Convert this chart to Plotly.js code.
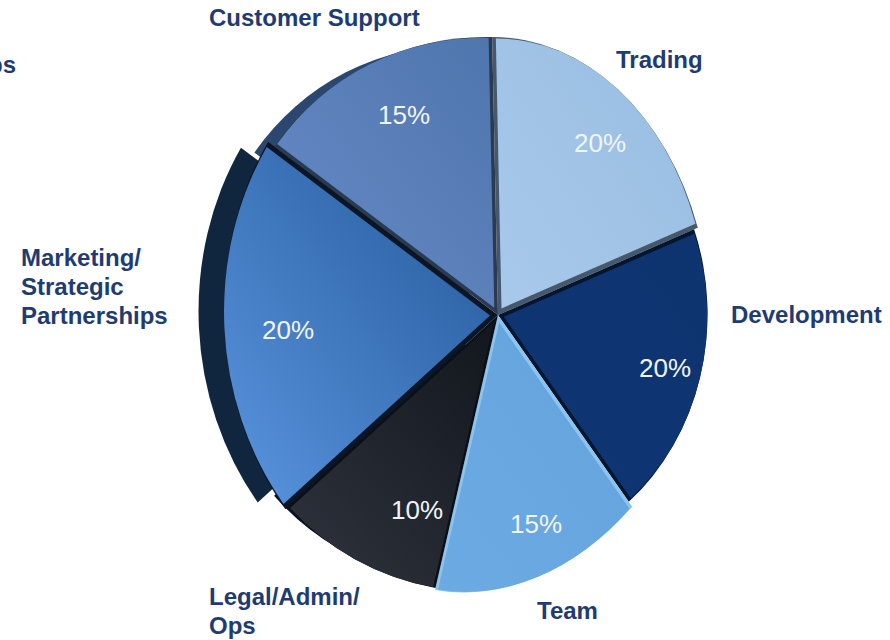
<!DOCTYPE html>
<html>
<head>
<meta charset="utf-8">
<script src="https://cdn.plot.ly/plotly-3.0.1.min.js"></script>
<style>html,body{margin:0;padding:0;background:#fff;overflow:hidden}</style>
</head>
<body>
<div id="chart" style="width:890px;height:640px"></div>
<script>
// Data, in pie order (clockwise from the top)
var categories = ['Trading', 'Development', 'Team', 'Legal/Admin/Ops', 'Marketing/Strategic Partnerships', 'Customer Support'];
var shares = [20, 20, 15, 10, 20, 15];
var shareText = ['20%', '20%', '15%', '10%', '20%', '15%'];

// Styles and layout, per slice
// perspective of the tilted disc: reach of each slice's two edges (px), and the
// small turn (degrees) the tilt gives to each boundary between slices
var reachStart = [278, 214, 234, 280, 288, 280];
var reachEnd = [218, 228, 282, 284, 288, 278];
var edgeTurn = [1.8, -2.6, 4, -2.1, -3.4, 4];
var gapColors = ['#46586c', '#04152f', '#8cc4f0', '#0a0f18', '#0a1526', '#2a3a50'];
var sideColors = [null, null, null, '#0a1220', '#10263f', '#2b4770'];
var sideCenter = [0, 0, 0, 472, 463, 470];
var sideRadius = [0, 0, 0, 268, 278, 270];
var gradients = [
  ['#a8c9ec', '#98bde0'], ['#0e3673', '#0e3470'], ['#6daae3', '#62a3dc'],
  ['#30343e', '#12161d'], ['#5a95de', '#24589a'], ['#668ac6', '#4f75ad']
];
var textPos = [[600, 143], [665, 368], [536, 524], [417, 510], [288, 330], [404, 115]];
var labelLines = [
  ['Customer Support', 208, 17.5, 'left'], ['Trading', 615, 59.5, 'left'],
  ['Development', 730, 314.5, 'left'], ['Team', 536, 610.5, 'left'],
  ['Legal/Admin/', 208, 596.5, 'left'], ['Ops', 208, 625.5, 'left'],
  ['Marketing/', 20, 257.5, 'left'], ['Strategic', 20, 286.5, 'left'], ['Partnerships', 20, 315.5, 'left'],
  ['ps', 17, 64.5, 'right']
];

var W = 890, H = 640, cx = 498, cy = 315, R = 282, rotation = -3, pullShare = 0.03;
var none = 'rgba(0,0,0,0)';

function pieTrace(colors, center, r, pull) {
  return {
    type: 'pie', labels: categories, values: shares, sort: false, direction: 'clockwise',
    rotation: rotation, textinfo: 'none', hoverinfo: 'skip', showlegend: false,
    pull: pull,
    marker: { colors: colors, line: { width: 0 } },
    domain: { x: [(center - r) / W, (center + r) / W], y: [1 - (cy + r) / H, 1 - (cy - r) / H] }
  };
}

var data = [], sideIndex = [];
sideColors.forEach(function (c, i) {
  if (c) {
    sideIndex.push(i);
    data.push(pieTrace(categories.map(function (x, j) { return j === i ? c : none; }), sideCenter[i], sideRadius[i], 0));
  }
});
var sideCount = data.length;
data.push(pieTrace(gapColors, cx, R, 0));
data.push(pieTrace(gradients.map(function (g) { return g[1]; }), cx, R, pullShare));

var annotations = [];
shareText.forEach(function (t, i) {
  annotations.push({ text: t, xref: 'paper', yref: 'paper', x: textPos[i][0] / W, y: 1 - textPos[i][1] / H,
    xanchor: 'center', yanchor: 'middle', showarrow: false,
    font: { family: 'Liberation Sans, Arial, sans-serif', size: 26, color: '#f1f5fa' } });
});
labelLines.forEach(function (l) {
  annotations.push({ text: '<b>' + l[0] + '</b>', xref: 'paper', yref: 'paper', x: l[1] / W, y: 1 - l[2] / H,
    xanchor: l[3], yanchor: 'middle', showarrow: false, borderpad: 0,
    font: { family: 'Liberation Sans, Arial, sans-serif', size: 24, color: '#1f3b73' } });
});

Plotly.newPlot('chart', data, {
  width: W, height: H, margin: { l: 0, r: 0, t: 0, b: 0 },
  paper_bgcolor: '#fff', annotations: annotations
}, { displayModeBar: false, staticPlot: true }).then(function (gd) {
  var svg = gd.querySelector('svg.main-svg');
  var ns = 'http://www.w3.org/2000/svg';
  var defs = document.createElementNS(ns, 'defs');
  gradients.forEach(function (g, i) {
    var lg = document.createElementNS(ns, 'linearGradient');
    lg.setAttribute('id', 'face' + i);
    lg.setAttribute('x1', '0'); lg.setAttribute('y1', '1'); lg.setAttribute('x2', '1'); lg.setAttribute('y2', '0');
    g.forEach(function (col, k) {
      var s = document.createElementNS(ns, 'stop');
      s.setAttribute('offset', k ? '1' : '0'); s.setAttribute('stop-color', col);
      lg.appendChild(s);
    });
    defs.appendChild(lg);
  });
  svg.appendChild(defs);

  var total = shares.reduce(function (a, b) { return a + b; }, 0);
  var toRad = Math.PI / 180;
  var traces = gd.querySelectorAll('.pielayer .trace');
  var n = categories.length;
  function dir(deg) { return [Math.sin(deg * toRad), -Math.cos(deg * toRad)]; }
  function tiltMatrix(i, a0, a1, s1, s2, px) {
    // maps the slice's nominal edges onto its tilted edges, keeping the pie centre fixed
    var e1 = dir(a0), e2 = dir(a1);
    var t1 = dir(a0 + edgeTurn[i]), t2 = dir(a1 + edgeTurn[(i + 1) % n]);
    var det = e1[0] * e2[1] - e2[0] * e1[1];
    var ia = e2[1] / det, ib = -e2[0] / det, ic = -e1[1] / det, id = e1[0] / det;
    var m = [
      s1 * t1[0] * ia + s2 * t2[0] * ic, s1 * t1[1] * ia + s2 * t2[1] * ic,
      s1 * t1[0] * ib + s2 * t2[0] * id, s1 * t1[1] * ib + s2 * t2[1] * id
    ];
    var tx = px - (m[0] * px + m[2] * cy), ty = cy - (m[1] * px + m[3] * cy);
    return 'matrix(' + [m[0], m[1], m[2], m[3], tx, ty].join(',') + ')';
  }
  var cum = 0;
  categories.forEach(function (c, i) {
    var a0 = rotation + cum / total * 360;
    cum += shares[i];
    var a1 = rotation + cum / total * 360;
    var mtx = tiltMatrix(i, a0, a1, reachStart[i] / R, reachEnd[i] / R, cx);
    [sideCount, sideCount + 1].forEach(function (t) {
      var p = traces[t].querySelectorAll('.slice path.surface')[i];
      if (p) {
        p.setAttribute('transform', mtx);
        if (t === sideCount + 1) p.style.fill = 'url(#face' + i + ')';
      }
    });
    var si = sideIndex.indexOf(i);
    if (si >= 0) {
      var sp = traces[si].querySelectorAll('.slice path.surface')[i];
      if (sp) sp.setAttribute('transform', tiltMatrix(i, a0, a1, 1, 1, sideCenter[i]));
    }
  });
});
</script>
</body>
</html>
